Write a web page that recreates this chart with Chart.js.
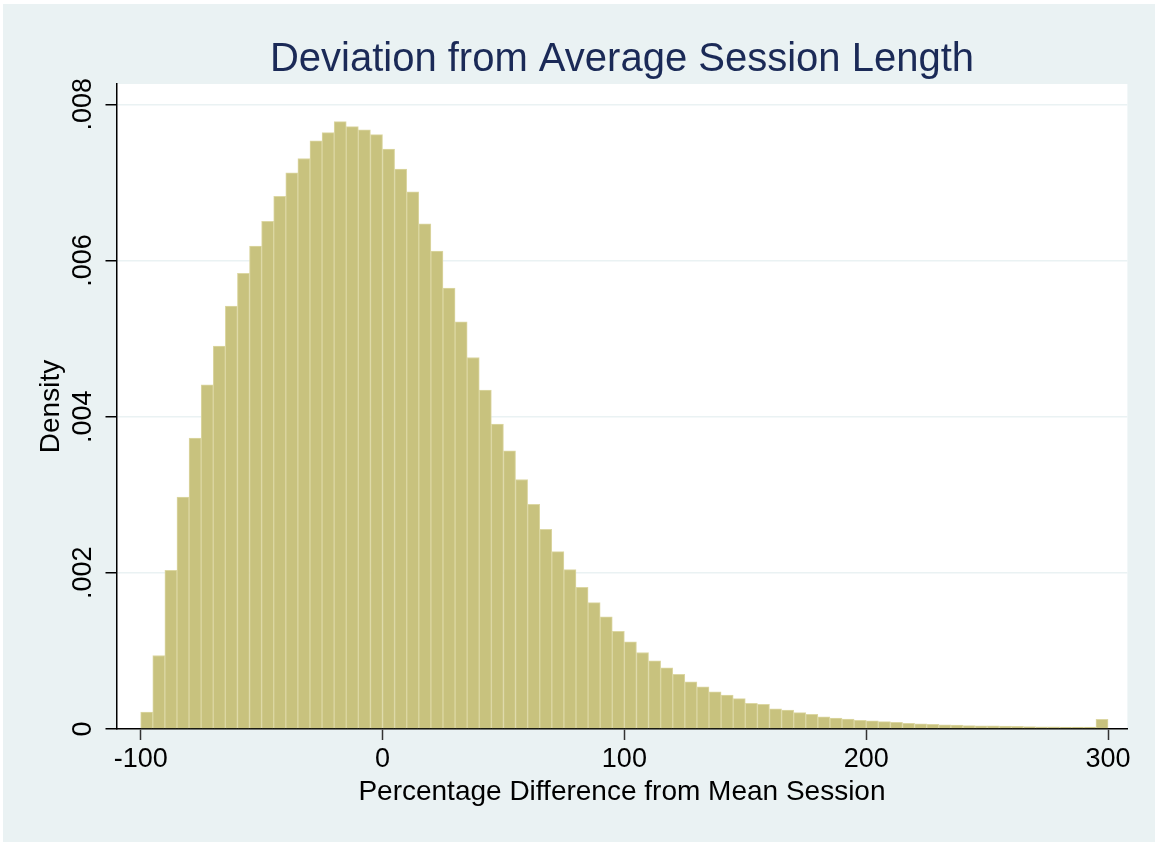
<!DOCTYPE html>
<html>
<head>
<meta charset="utf-8">
<script src="https://cdn.jsdelivr.net/npm/chart.js@4.4.1/dist/chart.umd.min.js"></script>
<style>
  html, body { margin: 0; padding: 0; background: #fff; }
  canvas { display: block; }
</style>
</head>
<body>
<canvas id="hist" width="1155" height="842"></canvas>
<script>
// bin centres (width 5)
const binCenters = [
  -97.5, -92.5, -87.5, -82.5, -77.5, -72.5, -67.5, -62.5, -57.5, -52.5,
  -47.5, -42.5, -37.5, -32.5, -27.5, -22.5, -17.5, -12.5, -7.5, -2.5,
  2.5, 7.5, 12.5, 17.5, 22.5, 27.5, 32.5, 37.5, 42.5, 47.5,
  52.5, 57.5, 62.5, 67.5, 72.5, 77.5, 82.5, 87.5, 92.5, 97.5,
  102.5, 107.5, 112.5, 117.5, 122.5, 127.5, 132.5, 137.5, 142.5, 147.5,
  152.5, 157.5, 162.5, 167.5, 172.5, 177.5, 182.5, 187.5, 192.5, 197.5,
  202.5, 207.5, 212.5, 217.5, 222.5, 227.5, 232.5, 237.5, 242.5, 247.5,
  252.5, 257.5, 262.5, 267.5, 272.5, 277.5, 282.5, 287.5, 292.5, 297.5
];
const density = [
  0.000217, 0.000941, 0.002032, 0.002969, 0.003727, 0.004409, 0.004903, 0.005415, 0.005836, 0.006185,
  0.006500, 0.006820, 0.007122, 0.007306, 0.007532, 0.007638, 0.007779, 0.007715, 0.007672, 0.007612,
  0.007425, 0.007169, 0.006880, 0.006470, 0.006121, 0.005645, 0.005214, 0.004758, 0.004341, 0.003906,
  0.003561, 0.003195, 0.002877, 0.002556, 0.002271, 0.002041, 0.001815, 0.001619, 0.001435, 0.001252,
  0.001116, 0.000980, 0.000873, 0.000784, 0.000699, 0.000605, 0.000541, 0.000477, 0.000435, 0.000388,
  0.000328, 0.000316, 0.000258, 0.000243, 0.000209, 0.000188, 0.000157, 0.000141, 0.000128, 0.000111,
  0.000105, 0.000095, 0.000085, 0.000072, 0.000066, 0.000060, 0.000055, 0.000050, 0.000044, 0.000041,
  0.000039, 0.000036, 0.000033, 0.000031, 0.000029, 0.000028, 0.000026, 0.000025, 0.000024, 0.000124
];
const xTicks = [-100, 0, 100, 200, 300];
const yTicks = [0, 0.002, 0.004, 0.006, 0.008];
const yTickLabels = ['0', '.002', '.004', '.006', '.008'];

const FONT = 'Liberation Sans, Arial, Helvetica, sans-serif';
Chart.defaults.font.family = FONT;

// stata style backdrop: light blue-gray page, white plot region
const backdrop = {
  id: 'backdrop',
  beforeDraw(chart) {
    const c = chart.ctx, a = chart.chartArea;
    c.save();
    c.fillStyle = '#ffffff';
    c.fillRect(0, 0, chart.width, chart.height);
    c.fillStyle = '#EAF2F3';
    c.fillRect(3, 4, chart.width - 3, chart.height - 4);
    c.fillStyle = '#ffffff';
    c.fillRect(a.left, a.top, a.right - a.left, a.bottom - a.top);
    c.restore();
  }
};

const ctx = document.getElementById('hist').getContext('2d');
new Chart(ctx, {
  type: 'bar',
  data: {
    datasets: [{
      data: binCenters.map((x, i) => ({ x: x, y: density[i] })),
      backgroundColor: '#C8C27E',
      borderColor: '#DCD7A3',
      borderWidth: 1,
      barPercentage: 1,
      categoryPercentage: 1,
      grouped: false
    }]
  },
  options: {
    responsive: false,
    animation: false,
    layout: { padding: { left: 0, right: 27.6, top: 0, bottom: 0 } },
    plugins: {
      legend: { display: false },
      tooltip: { enabled: false },
      title: {
        display: true,
        fullSize: false,
        text: 'Deviation from Average Session Length',
        color: '#1B2A57',
        font: { size: 40, weight: 'normal' },
        padding: { top: 36, bottom: 0 }
      }
    },
    scales: {
      x: {
        type: 'linear',
        min: -110,
        max: 308,
        offset: false,
        afterBuildTicks: s => { s.ticks = xTicks.map(v => ({ value: v })); },
        afterFit: s => { s.height = 113; },
        grid: { offset: false, drawOnChartArea: false, drawTicks: true, tickLength: 11, tickColor: '#333', tickWidth: 1.5 },
        border: { display: true, color: '#000', width: 1.5 },
        ticks: { color: '#000', font: { size: 27 }, padding: 3, maxRotation: 0, autoSkip: false,
                 callback: v => String(v) },
        title: { display: true, text: 'Percentage Difference from Mean Session', color: '#000',
                 font: { size: 28 }, padding: { top: 0, bottom: 33 } }
      },
      y: {
        min: 0,
        max: 0.00826,
        afterBuildTicks: s => { s.ticks = yTicks.map(v => ({ value: v })); },
        afterFit: s => { s.width = 116.5; },
        grid: { color: '#EAF2F3', lineWidth: 1.5, tickColor: '#000', tickLength: 11, tickWidth: 1.5 },
        border: { display: true, color: '#000', width: 1.5 },
        ticks: { color: '#000', font: { size: 27 }, minRotation: 90, maxRotation: 90, crossAlign: 'center',
                 padding: -4, autoSkip: false, callback: (v, i) => yTickLabels[i] },
        title: { display: true, text: 'Density', color: '#000', font: { size: 28 },
                 padding: { top: 34, bottom: 0 } }
      }
    }
  },
  plugins: [backdrop]
});
</script>
</body>
</html>
